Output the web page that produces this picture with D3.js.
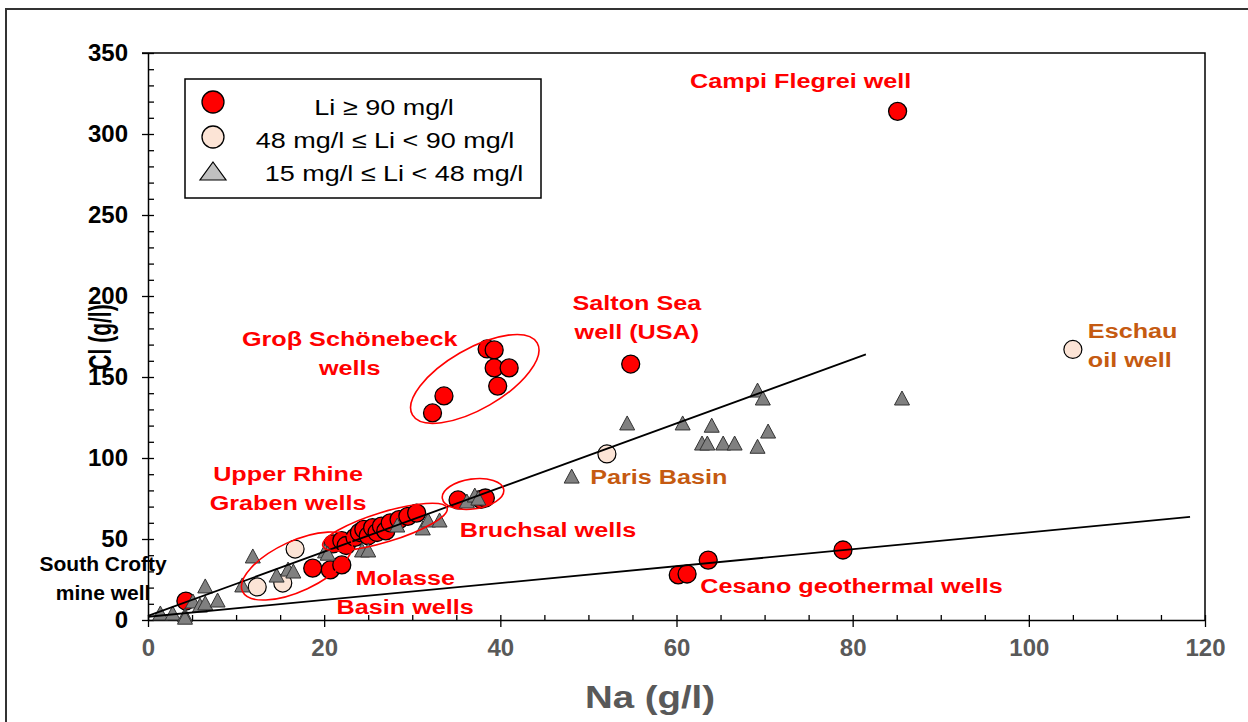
<!DOCTYPE html>
<html>
<head>
<meta charset="utf-8">
<script src="https://cdn.jsdelivr.net/npm/d3@7"></script>
<style>
  body { margin: 0; background: #fff; }
  text { font-family: "Liberation Sans", Arial, sans-serif; }
</style>
</head>
<body>
<div id="chart"></div>
<script>
// Na vs Cl of Li-rich waters, grouped by Li content ([Na g/l, Cl g/l])
const liHigh = [
  [4.3, 11.7], [18.7, 32], [20.7, 30.9], [22, 34],
  [21, 47], [22, 49], [22.5, 46], [23.5, 51], [24, 54], [24.5, 56], [25, 52],
  [25.5, 57], [26, 54], [26.5, 58], [27, 55], [27.5, 60], [28.5, 62], [29.5, 64], [30.5, 66],
  [35.2, 74.1], [37.8, 74.5], [38.3, 75.3],
  [32.3, 127.8], [33.6, 138.3], [38.5, 167.3], [39.3, 166.7], [39.3, 155.6], [41, 155.6], [39.7, 144.4],
  [54.8, 158], [60.2, 27.8], [61.2, 28.4], [63.6, 37], [78.9, 43.2], [85.1, 314]
];
const liMid = [[12.4, 20.4], [15.3, 22.8], [16.7, 43.8], [52.1, 102.5], [105, 167]];
const liLow = [
  [1.4, 3.1], [2.8, 3.1], [4.2, 1.9], [4.2, 0.5], [5.1, 10.5], [5.9, 8], [6.5, 9.3], [6.5, 19.8],
  [7.9, 11.1], [10.7, 20.4], [11.9, 38.3], [14.6, 26.5], [15.9, 30.2], [16.5, 29],
  [20.1, 41.4], [20.4, 40], [24.3, 42], [25, 42], [28.3, 57.4], [31.2, 55.6], [31.8, 60.5], [33.1, 60.5],
  [36.2, 72.2], [37.1, 75.9], [37.5, 74], [48.1, 87.6], [54.4, 120.4], [60.7, 120.4], [64, 119],
  [62.9, 108], [63.5, 108], [65.3, 108], [66.6, 108], [69.2, 106], [69.2, 140.7], [69.8, 135.8],
  [70.4, 115.4], [85.6, 135.8]
];
const seriesNames = ['Li \u2265 90 mg/l', '48 mg/l \u2264 Li < 90 mg/l', '15 mg/l \u2264 Li < 48 mg/l'];
const xTicks = [0, 20, 40, 60, 80, 100, 120];
const yTicks = [0, 50, 100, 150, 200, 250, 300, 350];
// trend lines, [start, end] in data units
const trendLines = [
  [[0, 2.5], [81.5, 164]],
  [[0, 2], [118.3, 63.6]]
];

// annotations
const groupRings = [
  { na: 37.1, cl: 148.8, rx: 72, ry: 30, angle: -30 },
  { na: 36.9, cl: 77.8, rx: 31, ry: 15, angle: -8 },
  { na: 26.9, cl: 57.4, rx: 65, ry: 15, angle: -17 },
  { na: 16.9, cl: 33.3, rx: 60, ry: 25, angle: -25 }
];
const RED = '#ff0000', ORANGE = '#c55a11';
const notes = [
  { lines: ['Campi Flegrei well'], na: 74.1, cl: 328.4, color: RED, anchor: 'middle' },
  { lines: ['Salton Sea', 'well (USA)'], na: 55.5, cl: 191.4, color: RED, anchor: 'middle' },
  { lines: ['Gro\u03b2 Sch\u00f6nebeck', 'wells'], na: 22.9, cl: 169.1, color: RED, anchor: 'middle' },
  { lines: ['Eschau', 'oil well'], na: 106.7, cl: 174.1, color: ORANGE, anchor: 'start' },
  { lines: ['Paris Basin'], na: 50.2, cl: 83.9, color: ORANGE, anchor: 'start' },
  { lines: ['Upper Rhine', 'Graben wells'], na: 15.9, cl: 85.8, color: RED, anchor: 'middle' },
  { lines: ['Bruchsal wells'], na: 35.4, cl: 51.2, color: RED, anchor: 'start' },
  { lines: ['Molasse', 'Basin wells'], na: 29.2, cl: 21.6, color: RED, anchor: 'middle' },
  { lines: ['Cesano geothermal wells'], na: 62.7, cl: 16.7, color: RED, anchor: 'start' },
  { lines: ['South Crofty', 'mine well'], na: -5.1, cl: 30.5, color: '#000', anchor: 'middle', sx: 1 }
];

const W = 1248, H = 722;
const plot = { left: 148, right: 1205, top: 53, bottom: 620 };
const SX = 1.2; // text boxes in the figure are stretched horizontally

const svg = d3.select('#chart').append('svg')
  .attr('width', W).attr('height', H);

// outer frame
svg.append('rect')
  .attr('x', 6).attr('y', 9).attr('width', 1250).attr('height', 730)
  .attr('fill', 'none').attr('stroke', '#333').attr('stroke-width', 2);

const x = d3.scaleLinear().domain([0, 120]).range([plot.left, plot.right]);
const y = d3.scaleLinear().domain([0, 350]).range([plot.bottom, plot.top]);

function stretchedText(g, px, py, str, size, color, anchor, weight, sx = SX) {
  return g.append('text')
    .attr('transform', `translate(${px},${py}) scale(${sx},1)`)
    .attr('text-anchor', anchor)
    .style('font-size', size + 'px')
    .style('font-weight', weight)
    .attr('fill', color)
    .text(str);
}

// plot box (top and right edges)
svg.append('path')
  .attr('d', `M${plot.left - 6},${plot.top}H${plot.right}V${plot.bottom}`)
  .attr('fill', 'none').attr('stroke', '#000').attr('stroke-width', 1.5);

// minor ticks (inside)
svg.append('g')
  .attr('transform', `translate(0,${plot.bottom})`)
  .call(d3.axisTop(x).tickValues(d3.range(0, 121, 5)).tickSize(5).tickFormat(''))
  .call(g => g.select('.domain').remove())
  .selectAll('line').attr('stroke', '#000').attr('stroke-width', 1.3);
svg.append('g')
  .attr('transform', `translate(${plot.left},0)`)
  .call(d3.axisRight(y).tickValues(d3.range(0, 351, 10)).tickSize(6).tickFormat(''))
  .call(g => g.select('.domain').remove())
  .selectAll('line').attr('stroke', '#000').attr('stroke-width', 1.3);

// major axes
const xAxis = svg.append('g')
  .attr('transform', `translate(0,${plot.bottom})`)
  .call(d3.axisBottom(x).tickValues(xTicks).tickSize(7).tickSizeOuter(0).tickPadding(12));
xAxis.selectAll('text')
  .style('font-size', '24px').style('font-weight', 'bold').attr('fill', '#595959');

const yAxis = svg.append('g')
  .attr('transform', `translate(${plot.left},0)`)
  .call(d3.axisLeft(y).tickValues(yTicks).tickSize(6).tickSizeOuter(0).tickPadding(14));
yAxis.selectAll('text')
  .style('font-size', '24px').style('font-weight', 'bold').attr('fill', '#000');

[xAxis, yAxis].forEach(a => {
  a.select('.domain').attr('stroke', '#000').attr('stroke-width', 1.5);
  a.selectAll('line').attr('stroke', '#000').attr('stroke-width', 1.3);
});

// axis titles
svg.append('text')
  .attr('transform', 'translate(111,337) scale(1.45,1) rotate(-90)')
  .attr('text-anchor', 'middle')
  .style('font-size', '21px').style('font-weight', 'bold')
  .text('Cl (g/l)');
stretchedText(svg, 650, 708, 'Na (g/l)', 32, '#595959', 'middle', 'bold');

// markers
const tri = 'M0,-9L7.5,5L-7.5,5Z';

svg.append('g').selectAll('circle')
  .data(liHigh).enter().append('circle')
  .attr('cx', d => x(d[0])).attr('cy', d => y(d[1])).attr('r', 9)
  .attr('fill', RED).attr('stroke', '#000').attr('stroke-width', 1.3);

svg.append('g').selectAll('circle')
  .data(liMid).enter().append('circle')
  .attr('cx', d => x(d[0])).attr('cy', d => y(d[1])).attr('r', 9)
  .attr('fill', '#fce4d6').attr('stroke', '#000').attr('stroke-width', 1.2);

svg.append('g').selectAll('path')
  .data(liLow).enter().append('path')
  .attr('d', tri)
  .attr('transform', d => `translate(${x(d[0])},${y(d[1])})`)
  .attr('fill', '#808080').attr('stroke', '#333').attr('stroke-width', 1);

// trend lines
const line = d3.line().x(d => x(d[0])).y(d => y(d[1]));
svg.append('g').selectAll('path')
  .data(trendLines).enter().append('path')
  .attr('d', line)
  .attr('fill', 'none').attr('stroke', '#000').attr('stroke-width', 1.8);

// group rings
svg.append('g').selectAll('ellipse')
  .data(groupRings).enter().append('ellipse')
  .attr('transform', d => `translate(${x(d.na)},${y(d.cl)}) rotate(${d.angle})`)
  .attr('rx', d => d.rx).attr('ry', d => d.ry)
  .attr('fill', 'none').attr('stroke', RED).attr('stroke-width', 1.6);

// labels
const noteG = svg.append('g');
notes.forEach(n => {
  n.lines.forEach((s, i) => {
    stretchedText(noteG, x(n.na), y(n.cl) + i * 29, s, 21, n.color, n.anchor, 'bold', n.sx || SX);
  });
});

// legend
const leg = svg.append('g');
leg.append('rect')
  .attr('x', 185).attr('y', 79).attr('width', 356).attr('height', 119)
  .attr('fill', '#fff').attr('stroke', '#000').attr('stroke-width', 1.5);
leg.append('circle').attr('cx', 213).attr('cy', 102).attr('r', 11)
  .attr('fill', RED).attr('stroke', '#000').attr('stroke-width', 1.3);
leg.append('circle').attr('cx', 213).attr('cy', 137).attr('r', 11)
  .attr('fill', '#fce4d6').attr('stroke', '#000').attr('stroke-width', 1.3);
leg.append('path').attr('d', 'M0,-11L13,7L-13,7Z')
  .attr('transform', 'translate(213,173)')
  .attr('fill', '#c0c0c0').attr('stroke', '#000').attr('stroke-width', 1.2);
const legX = [384, 385, 394], legY = [115, 148, 181];
seriesNames.forEach((s, i) => {
  stretchedText(leg, legX[i], legY[i], s, 22.5, '#000', 'middle', 'normal');
});
</script>
</body>
</html>
